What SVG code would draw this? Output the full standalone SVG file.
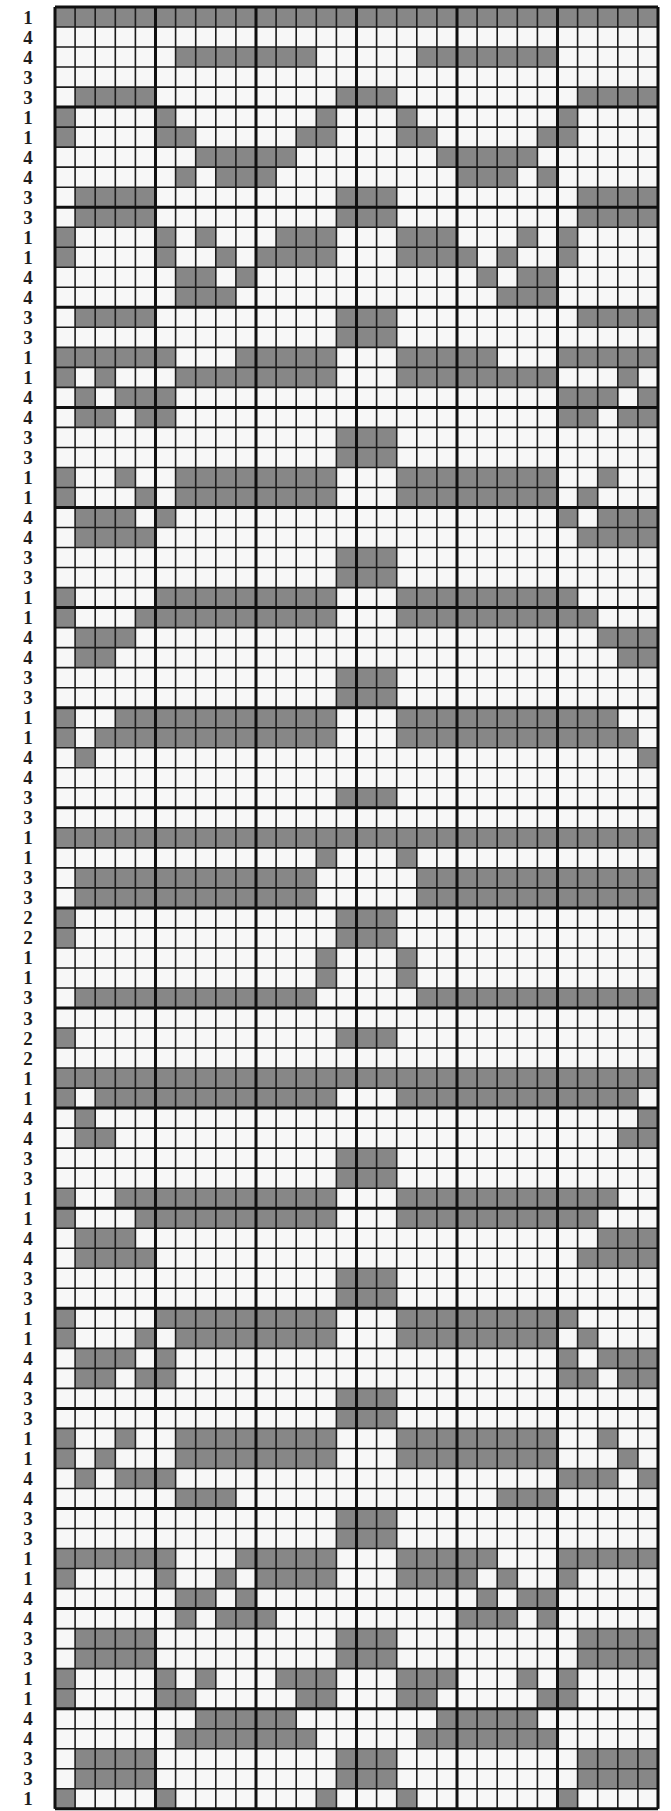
<svg xmlns="http://www.w3.org/2000/svg" xmlns:xlink="http://www.w3.org/1999/xlink" width="671" height="1811" viewBox="0 0 671 1811">
<style>
.c{fill:#878787}
.t{font-family:"Liberation Serif","DejaVu Serif",serif;font-weight:bold;font-size:19px;fill:#1e1e1e;text-anchor:middle}
.thin{stroke:#1c1c1c;stroke-width:1.6;fill:none}
.major{stroke:#101010;stroke-width:3;fill:none}
</style>
<rect width="671" height="1811" fill="#ffffff"/>
<g id="chart" transform="translate(55,7) scale(1.005,1.001)">
<rect width="600" height="1800" fill="#f7f7f7"/>
<g id="cells">
<g id="half" class="c">
<rect x="120" y="40" width="140" height="20"/>
<rect x="20" y="80" width="80" height="20"/><rect x="280" y="80" width="40" height="20"/>
<rect x="100" y="100" width="20" height="20"/><rect x="260" y="100" width="20" height="20"/>
<rect x="100" y="120" width="40" height="20"/><rect x="240" y="120" width="40" height="20"/>
<rect x="140" y="140" width="100" height="20"/>
<rect x="120" y="160" width="20" height="20"/><rect x="160" y="160" width="60" height="20"/>
<rect x="20" y="180" width="80" height="40"/><rect x="280" y="180" width="40" height="40"/>
<rect x="100" y="220" width="20" height="20"/><rect x="140" y="220" width="20" height="20"/><rect x="220" y="220" width="60" height="20"/>
<rect x="100" y="240" width="20" height="20"/><rect x="160" y="240" width="20" height="20"/><rect x="200" y="240" width="80" height="20"/>
<rect x="120" y="260" width="40" height="20"/><rect x="180" y="260" width="20" height="20"/>
<rect x="120" y="280" width="60" height="20"/>
<rect x="20" y="300" width="80" height="20"/><rect x="280" y="300" width="40" height="40"/>
<rect x="20" y="340" width="100" height="20"/><rect x="180" y="340" width="100" height="20"/>
<rect x="40" y="360" width="20" height="20"/><rect x="120" y="360" width="160" height="20"/>
<rect x="20" y="380" width="20" height="20"/><rect x="60" y="380" width="60" height="20"/>
<rect x="20" y="400" width="40" height="20"/><rect x="80" y="400" width="40" height="20"/>
<rect x="280" y="420" width="40" height="40"/>
<rect x="60" y="460" width="20" height="20"/><rect x="120" y="460" width="160" height="20"/>
<rect x="80" y="480" width="20" height="20"/><rect x="120" y="480" width="160" height="20"/>
<rect x="20" y="500" width="60" height="20"/><rect x="100" y="500" width="20" height="20"/>
<rect x="20" y="520" width="80" height="20"/>
<rect x="280" y="540" width="40" height="40"/>
<rect x="100" y="580" width="180" height="20"/>
<rect x="80" y="600" width="200" height="20"/>
<rect x="20" y="620" width="60" height="20"/>
<rect x="20" y="640" width="40" height="20"/>
<rect x="280" y="660" width="40" height="40"/>
<rect x="60" y="700" width="220" height="20"/>
<rect x="40" y="720" width="240" height="20"/>
<rect x="20" y="740" width="20" height="20"/>
<rect x="280" y="780" width="40" height="20"/>
<rect x="260" y="840" width="20" height="20"/>
<rect x="20" y="860" width="240" height="40"/>
<rect x="280" y="900" width="40" height="40"/>
<rect x="260" y="940" width="20" height="40"/>
<rect x="20" y="980" width="240" height="20"/>
<rect x="280" y="1020" width="40" height="20"/>
<rect x="40" y="1080" width="240" height="20"/>
<rect x="20" y="1100" width="20" height="20"/>
<rect x="20" y="1120" width="40" height="20"/>
<rect x="280" y="1140" width="40" height="40"/>
<rect x="60" y="1180" width="220" height="20"/>
<rect x="80" y="1200" width="200" height="20"/>
<rect x="20" y="1220" width="60" height="20"/>
<rect x="20" y="1240" width="80" height="20"/>
<rect x="280" y="1260" width="40" height="40"/>
<rect x="100" y="1300" width="180" height="20"/>
<rect x="80" y="1320" width="20" height="20"/><rect x="120" y="1320" width="160" height="20"/>
<rect x="20" y="1340" width="60" height="20"/><rect x="100" y="1340" width="20" height="20"/>
<rect x="20" y="1360" width="40" height="20"/><rect x="80" y="1360" width="40" height="20"/>
<rect x="280" y="1380" width="40" height="40"/>
<rect x="60" y="1420" width="20" height="20"/><rect x="120" y="1420" width="160" height="20"/>
<rect x="40" y="1440" width="20" height="20"/><rect x="120" y="1440" width="160" height="20"/>
<rect x="20" y="1460" width="20" height="20"/><rect x="60" y="1460" width="60" height="20"/>
<rect x="120" y="1480" width="60" height="20"/>
<rect x="280" y="1500" width="40" height="40"/>
<rect x="20" y="1540" width="100" height="20"/><rect x="180" y="1540" width="100" height="20"/>
<rect x="100" y="1560" width="20" height="20"/><rect x="160" y="1560" width="20" height="20"/><rect x="200" y="1560" width="80" height="20"/>
<rect x="120" y="1580" width="40" height="20"/><rect x="180" y="1580" width="20" height="20"/>
<rect x="120" y="1600" width="20" height="20"/><rect x="160" y="1600" width="60" height="20"/>
<rect x="20" y="1620" width="80" height="40"/><rect x="280" y="1620" width="40" height="40"/>
<rect x="100" y="1660" width="20" height="20"/><rect x="140" y="1660" width="20" height="20"/><rect x="220" y="1660" width="60" height="20"/>
<rect x="100" y="1680" width="40" height="20"/><rect x="240" y="1680" width="40" height="20"/>
<rect x="140" y="1700" width="100" height="20"/>
<rect x="120" y="1720" width="140" height="20"/>
<rect x="20" y="1740" width="80" height="40"/><rect x="280" y="1740" width="40" height="40"/>
<rect x="100" y="1780" width="20" height="20"/><rect x="260" y="1780" width="20" height="20"/>
</g>
<use xlink:href="#half" href="#half" transform="matrix(-1 0 0 1 620 0)"/>
<g id="edge" class="c">
<rect x="0" y="0" width="600" height="20"/>
<rect x="0" y="820" width="600" height="20"/>
<rect x="0" y="1060" width="600" height="20"/>
<rect x="0" y="100" width="20" height="40"/>
<rect x="0" y="220" width="20" height="40"/>
<rect x="0" y="340" width="20" height="40"/>
<rect x="0" y="460" width="20" height="40"/>
<rect x="0" y="580" width="20" height="40"/>
<rect x="0" y="700" width="20" height="40"/>
<rect x="0" y="900" width="20" height="40"/>
<rect x="0" y="1020" width="20" height="20"/>
<rect x="0" y="1080" width="20" height="20"/>
<rect x="0" y="1180" width="20" height="40"/>
<rect x="0" y="1300" width="20" height="40"/>
<rect x="0" y="1420" width="20" height="40"/>
<rect x="0" y="1540" width="20" height="40"/>
<rect x="0" y="1660" width="20" height="40"/>
<rect x="0" y="1780" width="20" height="20"/>
</g>
</g>
<g id="grid">
<path class="thin" d="M0 0V1800m20-1800v1800m20-1800v1800m20-1800v1800m20-1800v1800m20-1800v1800m20-1800v1800m20-1800v1800m20-1800v1800m20-1800v1800m20-1800v1800m20-1800v1800m20-1800v1800m20-1800v1800m20-1800v1800m20-1800v1800m20-1800v1800m20-1800v1800m20-1800v1800m20-1800v1800m20-1800v1800m20-1800v1800m20-1800v1800m20-1800v1800m20-1800v1800m20-1800v1800m20-1800v1800m20-1800v1800m20-1800v1800m20-1800v1800m20-1800v1800"/>
<path class="thin" d="M0 0H600m-600 20h600m-600 20h600m-600 20h600m-600 20h600m-600 20h600m-600 20h600m-600 20h600m-600 20h600m-600 20h600m-600 20h600m-600 20h600m-600 20h600m-600 20h600m-600 20h600m-600 20h600m-600 20h600m-600 20h600m-600 20h600m-600 20h600m-600 20h600m-600 20h600m-600 20h600m-600 20h600m-600 20h600m-600 20h600m-600 20h600m-600 20h600m-600 20h600m-600 20h600m-600 20h600m-600 20h600m-600 20h600m-600 20h600m-600 20h600m-600 20h600m-600 20h600m-600 20h600m-600 20h600m-600 20h600m-600 20h600m-600 20h600m-600 20h600m-600 20h600m-600 20h600m-600 20h600m-600 20h600m-600 20h600m-600 20h600m-600 20h600m-600 20h600m-600 20h600m-600 20h600m-600 20h600m-600 20h600m-600 20h600m-600 20h600m-600 20h600m-600 20h600m-600 20h600m-600 20h600m-600 20h600m-600 20h600m-600 20h600m-600 20h600m-600 20h600m-600 20h600m-600 20h600m-600 20h600m-600 20h600m-600 20h600m-600 20h600m-600 20h600m-600 20h600m-600 20h600m-600 20h600m-600 20h600m-600 20h600m-600 20h600m-600 20h600m-600 20h600m-600 20h600m-600 20h600m-600 20h600m-600 20h600m-600 20h600m-600 20h600m-600 20h600m-600 20h600m-600 20h600m-600 20h600m-600 20h600"/>
<path class="major" d="M0 0V1800M100 0V1800M200 0V1800M300 0V1800M400 0V1800M500 0V1800M600 0V1800M0 0H600M0 100H600M0 200H600M0 300H600M0 400H600M0 500H600M0 600H600M0 700H600M0 800H600M0 900H600M0 1000H600M0 1100H600M0 1200H600M0 1300H600M0 1400H600M0 1500H600M0 1600H600M0 1700H600M0 1800H600"/>
</g>
</g>
<g id="labels" class="t" transform="translate(0,7) scale(1,1.001)">
<text x="28" y="16.5">1</text><text x="28" y="36.5">4</text><text x="28" y="56.5">4</text><text x="28" y="76.5">3</text><text x="28" y="96.5">3</text>
<text x="28" y="116.5">1</text><text x="28" y="136.5">1</text><text x="28" y="156.5">4</text><text x="28" y="176.5">4</text><text x="28" y="196.5">3</text>
<text x="28" y="216.5">3</text><text x="28" y="236.5">1</text><text x="28" y="256.5">1</text><text x="28" y="276.5">4</text><text x="28" y="296.5">4</text>
<text x="28" y="316.5">3</text><text x="28" y="336.5">3</text><text x="28" y="356.5">1</text><text x="28" y="376.5">1</text><text x="28" y="396.5">4</text>
<text x="28" y="416.5">4</text><text x="28" y="436.5">3</text><text x="28" y="456.5">3</text><text x="28" y="476.5">1</text><text x="28" y="496.5">1</text>
<text x="28" y="516.5">4</text><text x="28" y="536.5">4</text><text x="28" y="556.5">3</text><text x="28" y="576.5">3</text><text x="28" y="596.5">1</text>
<text x="28" y="616.5">1</text><text x="28" y="636.5">4</text><text x="28" y="656.5">4</text><text x="28" y="676.5">3</text><text x="28" y="696.5">3</text>
<text x="28" y="716.5">1</text><text x="28" y="736.5">1</text><text x="28" y="756.5">4</text><text x="28" y="776.5">4</text><text x="28" y="796.5">3</text>
<text x="28" y="816.5">3</text><text x="28" y="836.5">1</text><text x="28" y="856.5">1</text><text x="28" y="876.5">3</text><text x="28" y="896.5">3</text>
<text x="28" y="916.5">2</text><text x="28" y="936.5">2</text><text x="28" y="956.5">1</text><text x="28" y="976.5">1</text><text x="28" y="996.5">3</text>
<text x="28" y="1016.5">3</text><text x="28" y="1036.5">2</text><text x="28" y="1056.5">2</text><text x="28" y="1076.5">1</text><text x="28" y="1096.5">1</text>
<text x="28" y="1116.5">4</text><text x="28" y="1136.5">4</text><text x="28" y="1156.5">3</text><text x="28" y="1176.5">3</text><text x="28" y="1196.5">1</text>
<text x="28" y="1216.5">1</text><text x="28" y="1236.5">4</text><text x="28" y="1256.5">4</text><text x="28" y="1276.5">3</text><text x="28" y="1296.5">3</text>
<text x="28" y="1316.5">1</text><text x="28" y="1336.5">1</text><text x="28" y="1356.5">4</text><text x="28" y="1376.5">4</text><text x="28" y="1396.5">3</text>
<text x="28" y="1416.5">3</text><text x="28" y="1436.5">1</text><text x="28" y="1456.5">1</text><text x="28" y="1476.5">4</text><text x="28" y="1496.5">4</text>
<text x="28" y="1516.5">3</text><text x="28" y="1536.5">3</text><text x="28" y="1556.5">1</text><text x="28" y="1576.5">1</text><text x="28" y="1596.5">4</text>
<text x="28" y="1616.5">4</text><text x="28" y="1636.5">3</text><text x="28" y="1656.5">3</text><text x="28" y="1676.5">1</text><text x="28" y="1696.5">1</text>
<text x="28" y="1716.5">4</text><text x="28" y="1736.5">4</text><text x="28" y="1756.5">3</text><text x="28" y="1776.5">3</text><text x="28" y="1796.5">1</text>
</g>
</svg>
